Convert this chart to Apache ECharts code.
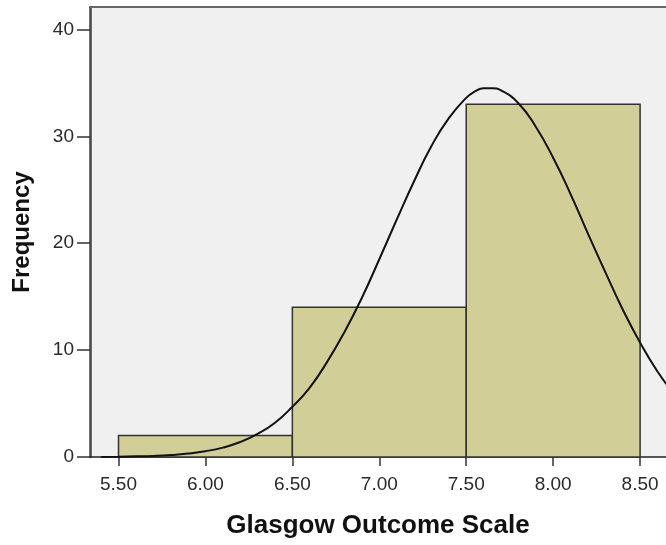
<!DOCTYPE html>
<html>
<head>
<meta charset="utf-8">
<script src="https://cdn.jsdelivr.net/npm/echarts@6/dist/echarts.min.js"></script>
<style>
  html, body { margin: 0; padding: 0; background: #fff; }
  #main { width: 666px; height: 545px; }
</style>
</head>
<body>
<div id="main"></div>
<script>
// histogram bins
const binStart = [5.5, 6.5, 7.5];
const binEnd = [6.5, 7.5, 8.5];
const counts = [2, 14, 33];

// normal curve
const curveX = [5.4, 5.5, 5.6, 5.7, 5.8, 5.9, 6.0, 6.1, 6.2, 6.3, 6.4, 6.5, 6.6, 6.7, 6.8, 6.9, 7.0, 7.1, 7.2, 7.3, 7.4, 7.5, 7.55, 7.6, 7.65, 7.7, 7.8, 7.9, 8.0, 8.1, 8.2, 8.3, 8.4, 8.5, 8.6, 8.7];
const curveY = [0.01, 0.03, 0.06, 0.1, 0.18, 0.32, 0.54, 0.88, 1.4, 2.16, 3.2, 4.7, 6.5, 8.9, 11.7, 14.9, 18.5, 22.2, 25.8, 29.1, 31.7, 33.6, 34.2, 34.5, 34.5, 34.3, 33.1, 30.9, 28.0, 24.6, 20.9, 17.3, 13.8, 10.7, 8.0, 5.8];

const xTicks = [5.5, 6.0, 6.5, 7.0, 7.5, 8.0, 8.5];
const yTicks = [0, 10, 20, 30, 40];

const chart = echarts.init(document.getElementById("main"));

const barData = binStart.map((s, i) => [s, binEnd[i], counts[i]]);
const curveData = curveX.map((x, i) => [x, curveY[i]]);

const labelFont = {
  fontFamily: "Liberation Sans",
  fontSize: 19,
  color: "#2a2a2a",
};

const option = {
  animation: false,
  grid: {
    left: 90,
    top: 7,
    right: 0,
    bottom: 88,
    show: true,
    backgroundColor: "#f0f0f0",
    borderWidth: 0,
  },
  xAxis: [
    {
      type: "value",
      min: 5.336,
      max: 8.649,
      name: "Glasgow Outcome Scale",
      nameLocation: "middle",
      nameGap: 56,
      nameTextStyle: {
        fontFamily: "Liberation Sans",
        fontWeight: "bold",
        fontSize: 26,
        color: "#111",
      },
      axisLine: { onZero: false, lineStyle: { color: "#222", width: 1.5 } },
      axisTick: {
        show: true,
        length: 9,
        customValues: xTicks,
        lineStyle: { color: "#333", width: 1.5 },
      },
      axisLabel: Object.assign(
        {
          customValues: xTicks,
          formatter: (v) => v.toFixed(2),
          margin: 18,
        },
        labelFont
      ),
      splitLine: { show: false },
    },
    {
      // top frame line
      type: "value",
      position: "top",
      min: 5.336,
      max: 8.649,
      axisLine: { show: true, onZero: false, lineStyle: { color: "#666", width: 2 } },
      axisTick: { show: false },
      axisLabel: { show: false },
      splitLine: { show: false },
    },
  ],
  yAxis: {
    type: "value",
    min: 0,
    max: 42.1,
    name: "Frequency",
    nameLocation: "middle",
    nameGap: 56,
    nameRotate: 90,
    nameTextStyle: {
      fontFamily: "Liberation Sans",
      fontWeight: "bold",
      fontSize: 24,
      color: "#111",
    },
    axisLine: { show: true, lineStyle: { color: "#444", width: 2.5 } },
    axisTick: {
      show: true,
      length: 13,
      customValues: yTicks,
      lineStyle: { color: "#333", width: 1.5 },
    },
    axisLabel: Object.assign({ customValues: yTicks, margin: 16 }, labelFont),
    splitLine: { show: false },
  },
  series: [
    {
      type: "custom",
      data: barData,
      encode: { x: [0, 1], y: 2 },
      renderItem: function (params, api) {
        const p0 = api.coord([api.value(0), api.value(2)]);
        const p1 = api.coord([api.value(1), 0]);
        return {
          type: "rect",
          shape: { x: p0[0], y: p0[1], width: p1[0] - p0[0], height: p1[1] - p0[1] },
          style: { fill: "#d2ce97", stroke: "#333", lineWidth: 1.5 },
        };
      },
      z: 2,
    },
    {
      type: "line",
      data: curveData,
      smooth: true,
      showSymbol: false,
      lineStyle: { color: "#111", width: 2 },
      clip: true,
      z: 3,
    },
  ],
};

chart.setOption(option);
</script>
</body>
</html>
